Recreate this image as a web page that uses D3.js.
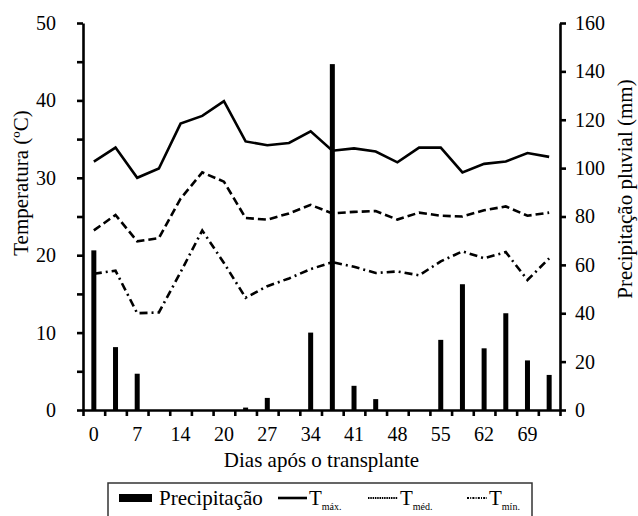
<!DOCTYPE html>
<html>
<head>
<meta charset="utf-8">
<script src="https://cdn.jsdelivr.net/npm/d3@7"></script>
<style>
  body { margin: 0; background: #fff; }
  svg { font-family: "Liberation Serif", "Times New Roman", serif; }
</style>
</head>
<body>
<div id="chart"></div>
<script>
// Days after transplant (one band per reading, every other one labelled)
const days = [0, 3, 7, 10, 14, 17, 20, 23, 27, 30, 34, 37, 41, 44, 48, 51, 55, 58, 62, 65, 69, 72];
const dayLabels = ['0', '7', '14', '20', '27', '34', '41', '48', '55', '62', '69'];

// Rainfall (mm) and temperatures (ºC)
const rain = [66, 26, 15, 0, 0, 0, 0, 1, 5, 0, 32, 143, 10, 4.5, 0, 0, 29, 52, 25.5, 40, 20.5, 14.5];
const tMax = [32.1, 33.9, 30.0, 31.2, 37.0, 38.0, 39.9, 34.7, 34.2, 34.5, 36.0, 33.5, 33.8, 33.4, 32.0, 33.9, 33.9, 30.7, 31.8, 32.1, 33.2, 32.7];
const tMed = [23.2, 25.2, 21.8, 22.2, 27.3, 30.7, 29.5, 24.8, 24.6, 25.4, 26.5, 25.4, 25.6, 25.7, 24.6, 25.5, 25.1, 25.0, 25.8, 26.3, 25.1, 25.5];
const tMin = [17.6, 18.0, 12.5, 12.6, 17.8, 23.2, 19.0, 14.5, 16.0, 17.0, 18.2, 19.1, 18.5, 17.7, 17.9, 17.4, 19.2, 20.5, 19.6, 20.4, 16.8, 19.6];

const tempTicks = [0, 10, 20, 30, 40, 50];
const rainTicks = [0, 20, 40, 60, 80, 100, 120, 140, 160];

// Layout
const width = 638;
const height = 516;
const margin = {top: 23, right: 78, bottom: 106, left: 83};

const svg = d3.select('#chart')
  .append('svg')
  .attr('width', width)
  .attr('height', height);

const x = d3.scaleBand()
  .domain(days)
  .range([margin.left, width - margin.right]);

const yTemp = d3.scaleLinear()
  .domain([0, 50])
  .range([height - margin.bottom, margin.top]);

const yRain = d3.scaleLinear()
  .domain([0, 160])
  .range([height - margin.bottom, margin.top]);

const cx = d => x(d) + x.bandwidth() / 2;

// Rain bars
svg.append('g')
  .selectAll('rect')
  .data(days)
  .enter()
  .append('rect')
  .attr('x', d => cx(d) - 2.5)
  .attr('width', 5)
  .attr('y', (d, i) => yRain(rain[i]))
  .attr('height', (d, i) => yRain(0) - yRain(rain[i]))
  .attr('fill', '#000');

// Temperature lines
const line = d3.line()
  .x((v, i) => cx(days[i]))
  .y(v => yTemp(v));

function drawLine(values, dash) {
  svg.append('path')
    .datum(values)
    .attr('d', line)
    .attr('fill', 'none')
    .attr('stroke', '#000')
    .attr('stroke-width', 2.6)
    .attr('stroke-dasharray', dash);
}

drawLine(tMax, null);
drawLine(tMed, '8,4');
drawLine(tMin, '8,4,2,4');

// Axes
function styleAxis(g) {
  g.selectAll('path, line').attr('stroke', '#000').attr('stroke-width', 2.6);
  g.selectAll('text').attr('font-size', 20).attr('fill', '#000')
    .attr('font-family', '"Liberation Serif", serif');
}

// x axis: ticks on band edges, labels on every other band
const edges = d3.scaleLinear().domain([0, days.length]).range(x.range());
svg.append('g')
  .attr('transform', `translate(0,${yTemp(0)})`)
  .call(d3.axisBottom(edges).ticks(days.length).tickSize(6).tickSizeOuter(0).tickFormat(''))
  .call(styleAxis);

svg.append('g')
  .attr('transform', `translate(0,${yTemp(0)})`)
  .call(d3.axisBottom(x)
    .tickValues(days.filter((d, i) => i % 2 === 0))
    .tickFormat((d, i) => dayLabels[i])
    .tickSize(0).tickPadding(17))
  .call(g => g.select('.domain').remove())
  .call(styleAxis);

// left axis (minor ticks every 5)
svg.append('g')
  .attr('transform', `translate(${margin.left},0)`)
  .call(d3.axisLeft(yTemp).ticks(10).tickSize(6).tickSizeOuter(0).tickPadding(21)
    .tickFormat(d => tempTicks.includes(d) ? d : ''))
  .call(styleAxis);

// right axis
svg.append('g')
  .attr('transform', `translate(${width - margin.right},0)`)
  .call(d3.axisRight(yRain).tickValues(rainTicks).tickSize(6).tickSizeOuter(0).tickPadding(9))
  .call(styleAxis);

// Axis titles
svg.append('text')
  .attr('x', (margin.left + width - margin.right) / 2)
  .attr('y', 467)
  .attr('text-anchor', 'middle')
  .attr('font-size', 21)
  .text('Dias após o transplante');

svg.append('text')
  .attr('transform', 'translate(28,183) rotate(-90)')
  .attr('text-anchor', 'middle')
  .attr('font-size', 21)
  .text('Temperatura (ºC)');

svg.append('text')
  .attr('transform', 'translate(632,189) rotate(-90)')
  .attr('text-anchor', 'middle')
  .attr('font-size', 21)
  .text('Precipitação pluvial (mm)');

// Legend
const legend = svg.append('g');
legend.append('rect')
  .attr('x', 108).attr('y', 483)
  .attr('width', 424).attr('height', 60)
  .attr('fill', 'none').attr('stroke', '#333').attr('stroke-width', 1.5);

legend.append('rect')
  .attr('x', 119).attr('y', 494)
  .attr('width', 33).attr('height', 8)
  .attr('fill', '#000');

legend.append('text')
  .attr('x', 159).attr('y', 505)
  .attr('font-size', 21)
  .text('Precipitação');

const legendLines = [
  {x: 278, len: 29, dash: null, label: 'máx.'},
  {x: 368, len: 30, dash: '1.5,0.8', label: 'méd.'},
  {x: 467, len: 20, dash: '2,1.2,1,1.2', label: 'mín.'}
];

legendLines.forEach(item => {
  legend.append('line')
    .attr('x1', item.x).attr('x2', item.x + item.len)
    .attr('y1', 498).attr('y2', 498)
    .attr('stroke', '#000')
    .attr('stroke-width', item.dash ? 2 : 2.6)
    .attr('stroke-dasharray', item.dash);
  const t = legend.append('text')
    .attr('x', item.x + item.len + 2).attr('y', 505)
    .attr('font-size', 21)
    .text('T');
  t.append('tspan')
    .attr('font-size', 10)
    .attr('dy', 5)
    .text(item.label);
});
</script>
</body>
</html>
